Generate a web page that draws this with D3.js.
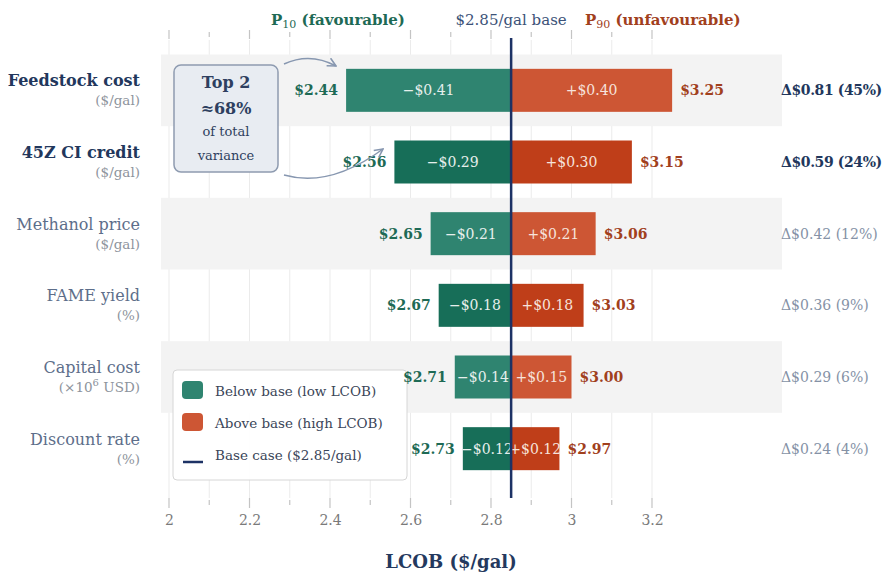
<!DOCTYPE html>
<html>
<head>
<meta charset="utf-8">
<script src="https://cdn.jsdelivr.net/npm/d3@7"></script>
<style>
  body { margin: 0; background: #fff; }
  svg text { font-family: "DejaVu Serif", serif; }
</style>
</head>
<body>
<script>
//tornado chart data
var params = ["Feedstock cost", "45Z CI credit", "Methanol price", "FAME yield", "Capital cost", "Discount rate"];
var units = ["($/gal)", "($/gal)", "($/gal)", "(%)", "(×10|6| USD)", "(%)"];
var lowVals = [2.44, 2.56, 2.65, 2.67, 2.71, 2.73];
var highVals = [3.25, 3.15, 3.06, 3.03, 3.00, 2.97];
var lowDeltas = [-0.41, -0.29, -0.21, -0.18, -0.14, -0.12];
var highDeltas = [0.40, 0.30, 0.21, 0.18, 0.15, 0.12];
var swings = [0.81, 0.59, 0.42, 0.36, 0.29, 0.24];
var shares = [45, 24, 12, 9, 6, 4];
var baseCase = 2.85;
var majorTicks = [2, 2.2, 2.4, 2.6, 2.8, 3, 3.2];

var width = 885,
    height = 574;

var svg = d3.select("body")
    .append("svg")
    .attr("width", width)
    .attr("height", height)
    .attr("font-family", "DejaVu Serif, serif");

var x = d3.scaleLinear()
    .domain([2, 3.2])
    .range([169, 652]);

var y = d3.scaleBand()
    .domain(params)
    .range([54.5, 484.5]);

var barH = y.bandwidth() * 0.6;

var rows = params.map(function(p, i){
    return {name: p, unit: units[i], low: lowVals[i], high: highVals[i],
        dl: lowDeltas[i], dh: highDeltas[i], swing: swings[i], share: shares[i], i: i};
});

//colours
var greenA = "#2f8470", greenB = "#176e58",
    orangeA = "#cd5634", orangeB = "#bf3e19",
    navy = "#1d3265";

//minor gridlines every 0.1
var minor = x.ticks(12);
svg.selectAll(".grid")
    .data(minor)
    .enter()
    .append("line")
    .attr("x1", function(d){ return x(d); })
    .attr("x2", function(d){ return x(d); })
    .attr("y1", 40)
    .attr("y2", 498)
    .attr("stroke", "#ebebeb")
    .attr("stroke-width", 1);

//alternate row bands
svg.selectAll(".band")
    .data(rows.filter(function(d){ return d.i % 2 == 0; }))
    .enter()
    .append("rect")
    .attr("x", 161)
    .attr("width", 621)
    .attr("y", function(d){ return y(d.name); })
    .attr("height", y.bandwidth())
    .attr("fill", "#f3f3f3");

//tick marks top and bottom
function isMajor(d){ return majorTicks.some(function(t){ return Math.abs(t - d) < 1e-6; }); }
[[30, 39, 32, 37], [498, 508, 500, 505]].forEach(function(t){
    svg.selectAll(null)
        .data(minor)
        .enter()
        .append("line")
        .attr("x1", function(d){ return x(d); })
        .attr("x2", function(d){ return x(d); })
        .attr("y1", function(d){ return isMajor(d) ? t[0] : t[2]; })
        .attr("y2", function(d){ return isMajor(d) ? t[1] : t[3]; })
        .attr("stroke", "#c4c4c4")
        .attr("stroke-width", 1.2);
});

//bottom axis labels
var xAxis = d3.axisBottom(x)
    .tickValues(majorTicks)
    .tickSize(0)
    .tickFormat(d3.format("~g"));
var axisG = svg.append("g")
    .attr("transform", "translate(0,512)")
    .call(xAxis)
    .attr("font-family", "DejaVu Serif, serif");
axisG.select(".domain").remove();
axisG.selectAll("text")
    .attr("font-size", 14)
    .attr("fill", "#7a7a7a");

svg.append("text")
    .attr("x", 451)
    .attr("y", 568)
    .attr("text-anchor", "middle")
    .attr("font-size", 18)
    .attr("font-weight", "bold")
    .attr("fill", "#24395e")
    .text("LCOB ($/gal)");

//legend (under the value labels)
var legend = svg.append("g");
legend.append("rect")
    .attr("x", 173)
    .attr("y", 370)
    .attr("width", 234)
    .attr("height", 110)
    .attr("rx", 4)
    .attr("fill", "#ffffff")
    .attr("fill-opacity", 0.95)
    .attr("stroke", "#d6d6d6")
    .attr("stroke-width", 1);

var legendItems = [
    {label: "Below base (low LCOB)", color: greenA, type: "box"},
    {label: "Above base (high LCOB)", color: orangeA, type: "box"},
    {label: "Base case ($2.85/gal)", color: navy, type: "line"}
];
legendItems.forEach(function(d, i){
    var ly = 390 + i * 32;
    if (d.type == "box"){
        legend.append("rect")
            .attr("x", 182)
            .attr("y", ly - 9)
            .attr("width", 21)
            .attr("height", 18)
            .attr("rx", 4)
            .attr("fill", d.color);
    } else {
        legend.append("line")
            .attr("x1", 183)
            .attr("x2", 203)
            .attr("y1", ly + 8)
            .attr("y2", ly + 8)
            .attr("stroke", d.color)
            .attr("stroke-width", 2.5);
    }
    legend.append("text")
        .attr("x", 215)
        .attr("y", ly + 6)
        .attr("font-size", 13.5)
        .attr("fill", "#3a4558")
        .text(d.label);
});

//bars
var barG = svg.selectAll(".bar")
    .data(rows)
    .enter()
    .append("g");

barG.append("rect")
    .attr("x", function(d){ return x(d.low); })
    .attr("width", function(d){ return x(baseCase) - x(d.low); })
    .attr("y", function(d){ return y(d.name) + (y.bandwidth() - barH) / 2; })
    .attr("height", barH)
    .attr("fill", function(d){ return d.i % 2 == 0 ? greenA : greenB; });

barG.append("rect")
    .attr("x", x(baseCase))
    .attr("width", function(d){ return x(d.high) - x(baseCase); })
    .attr("y", function(d){ return y(d.name) + (y.bandwidth() - barH) / 2; })
    .attr("height", barH)
    .attr("fill", function(d){ return d.i % 2 == 0 ? orangeA : orangeB; });

function cy(d){ return y(d.name) + y.bandwidth() / 2; }

//delta labels inside bars
barG.append("text")
    .attr("x", function(d){ return (x(d.low) + x(baseCase)) / 2; })
    .attr("y", function(d){ return cy(d) + 5; })
    .attr("text-anchor", "middle")
    .attr("font-size", 14)
    .attr("fill", "#e6efec")
    .text(function(d){ return "−$" + Math.abs(d.dl).toFixed(2); });

barG.append("text")
    .attr("x", function(d){ return (x(d.high) + x(baseCase)) / 2; })
    .attr("y", function(d){ return cy(d) + 5; })
    .attr("text-anchor", "middle")
    .attr("font-size", 14)
    .attr("fill", "#f6e3dc")
    .text(function(d){ return "+$" + d.dh.toFixed(2); });

//end value labels
barG.append("text")
    .attr("x", function(d){ return x(d.low) - 8; })
    .attr("y", function(d){ return cy(d) + 5; })
    .attr("text-anchor", "end")
    .attr("font-size", 14)
    .attr("font-weight", "bold")
    .attr("fill", "#1e6a55")
    .text(function(d){ return "$" + d.low.toFixed(2); });

barG.append("text")
    .attr("x", function(d){ return x(d.high) + 8; })
    .attr("y", function(d){ return cy(d) + 5; })
    .attr("font-size", 14)
    .attr("font-weight", "bold")
    .attr("fill", "#a1401d")
    .text(function(d){ return "$" + d.high.toFixed(2); });

//left category labels
barG.append("text")
    .attr("x", 140)
    .attr("y", function(d){ return cy(d) - 4; })
    .attr("text-anchor", "end")
    .attr("font-size", 16)
    .attr("font-weight", function(d){ return d.i < 2 ? "bold" : "normal"; })
    .attr("fill", function(d){ return d.i < 2 ? "#22375c" : "#5d6e8a"; })
    .text(function(d){ return d.name; });

//unit labels, "|" marks a superscript part
var unitText = barG.append("text")
    .attr("x", 140)
    .attr("y", function(d){ return cy(d) + 15; })
    .attr("text-anchor", "end")
    .attr("font-size", 13.5)
    .attr("fill", "#8d939c");
unitText.each(function(d){
    var parts = d.unit.split("|");
    var t = d3.select(this);
    t.append("tspan").text(parts[0]);
    if (parts.length > 1){
        t.append("tspan").attr("font-size", 10).attr("dy", -6).text(parts[1]);
        t.append("tspan").attr("dy", 6).text(parts[2]);
    }
});

//right swing labels
barG.append("text")
    .attr("x", 781)
    .attr("y", function(d){ return cy(d) + 5; })
    .attr("font-size", 14)
    .attr("font-weight", function(d){ return d.i < 2 ? "bold" : "normal"; })
    .attr("letter-spacing", function(d){ return d.i < 2 ? -0.4 : 0; })
    .attr("fill", function(d){ return d.i < 2 ? "#22375c" : "#8592a6"; })
    .text(function(d){ return "Δ$" + d.swing.toFixed(2) + " (" + d.share + "%)"; });

//base case line
svg.append("line")
    .attr("x1", x(baseCase))
    .attr("x2", x(baseCase))
    .attr("y1", 38)
    .attr("y2", 498)
    .attr("stroke", navy)
    .attr("stroke-width", 2.5);

//header labels
var p10 = svg.append("text")
    .attr("x", 338)
    .attr("y", 25)
    .attr("text-anchor", "middle")
    .attr("font-size", 15)
    .attr("font-weight", "bold")
    .attr("fill", "#1e6a55");
p10.append("tspan").text("P");
p10.append("tspan").attr("font-size", 11).attr("font-weight", "normal").attr("dy", 3).text("10");
p10.append("tspan").attr("dy", -3).text(" (favourable)");

svg.append("text")
    .attr("x", x(baseCase))
    .attr("y", 25)
    .attr("text-anchor", "middle")
    .attr("font-size", 15)
    .attr("fill", "#3c5278")
    .text("$2.85/gal base");

var p90 = svg.append("text")
    .attr("x", 585)
    .attr("y", 25)
    .attr("font-size", 15)
    .attr("font-weight", "bold")
    .attr("fill", "#a1401d");
p90.append("tspan").text("P");
p90.append("tspan").attr("font-size", 11).attr("font-weight", "normal").attr("dy", 3).text("90");
p90.append("tspan").attr("dy", -3).text(" (unfavourable)");

//callout box
svg.append("defs").append("marker")
    .attr("id", "arr")
    .attr("viewBox", "0 0 10 10")
    .attr("refX", 9)
    .attr("refY", 5)
    .attr("markerWidth", 7)
    .attr("markerHeight", 7)
    .attr("orient", "auto")
    .append("path")
    .attr("d", "M1,1 L9,5 L1,9")
    .attr("fill", "none")
    .attr("stroke", "#8797b0")
    .attr("stroke-width", 1.5);

svg.append("rect")
    .attr("x", 174)
    .attr("y", 65)
    .attr("width", 104)
    .attr("height", 107)
    .attr("rx", 7)
    .attr("fill", "#e8ecf2")
    .attr("stroke", "#8e9bb0")
    .attr("stroke-width", 1.5);

var callout = [["Top 2", 88, 16], ["≈68%", 114, 16], ["of total", 136, 13], ["variance", 160, 13]];
svg.selectAll(".callout")
    .data(callout)
    .enter()
    .append("text")
    .attr("x", 226)
    .attr("y", function(d){ return d[1]; })
    .attr("text-anchor", "middle")
    .attr("font-size", function(d){ return d[2]; })
    .attr("font-weight", function(d){ return d[2] > 14 ? "bold" : "normal"; })
    .attr("fill", "#2e3f60")
    .text(function(d){ return d[0]; });

svg.append("path")
    .attr("d", "M284,64 Q310,52 336,66")
    .attr("fill", "none")
    .attr("stroke", "#8797b0")
    .attr("stroke-width", 1.5)
    .attr("marker-end", "url(#arr)");

svg.append("path")
    .attr("d", "M284,175 Q330,188 383,149")
    .attr("fill", "none")
    .attr("stroke", "#8797b0")
    .attr("stroke-width", 1.5)
    .attr("marker-end", "url(#arr)");
</script>
</body>
</html>
